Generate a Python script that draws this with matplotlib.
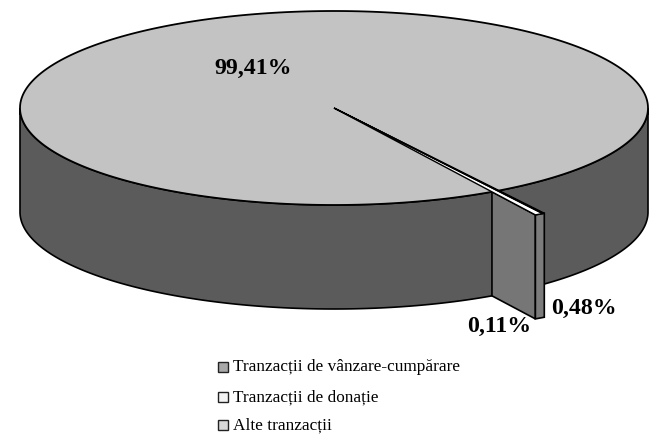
import numpy as np
import matplotlib
matplotlib.use("Agg")
import matplotlib.pyplot as plt
from matplotlib.patches import Polygon, Rectangle

# valori
etichete = ["99,41%", "0,11%", "0,48%"]
valori = [99.41, 0.11, 0.48]
legenda = ["Tranzacții de vânzare-cumpărare", "Tranzacții de donație", "Alte tranzacții"]
culori_legenda = ["#a8a8a8", "#f4f4f4", "#d8d8d8"]

# geometrie (pixeli)
cx, cy = 334, 108
a, b = 314, 97
h = 104
r_felie = 1.275
unghi_start = 59.8  # capatul feliei de 99,41%
comprimare = 0.7    # perspectiva ingusteaza feliile

plt.rcParams["font.family"] = ["Liberation Serif", "DejaVu Serif"]
fig = plt.figure(figsize=(6.6, 4.36), dpi=100)
ax = fig.add_axes([0, 0, 1, 1])
ax.set_xlim(0, 660)
ax.set_ylim(436, 0)
ax.axis("off")


def punct(t, r=1.0):
    t = np.radians(t)
    return cx + r * a * np.cos(t), cy + r * b * np.sin(t)


def arc(t1, t2, r=1.0, dy=0):
    t = np.radians(np.linspace(t1, t2, 300))
    return np.column_stack([cx + r * a * np.cos(t), cy + r * b * np.sin(t) + dy])


sweep = [v * 3.6 * comprimare for v in valori]
t_alb = unghi_start - sweep[2]
t_negru = t_alb - sweep[1]

# peretele lateral (partea din fata a elipsei)
fata = arc(0, 180)
jos = arc(180, 0, dy=h)
ax.add_patch(Polygon(np.vstack([fata, jos]), closed=True, fc="#5b5b5b", ec="black", lw=1.2))

# capacul
top = arc(0, 360)
ax.add_patch(Polygon(top, closed=True, fc="#c3c3c3", ec="black", lw=1.3))

# feliile subtiri: peretele de taietura + marginea exterioara
x0, y0 = punct(unghi_start)
x1, y1 = punct(unghi_start, r_felie)
x2, y2 = punct(t_negru, r_felie)
ax.add_patch(Polygon([(x0, y0), (x1, y1), (x1, y1 + h), (x0, y0 + h)], closed=True,
                     fc="#767676", ec="black", lw=1.2))
ax.add_patch(Polygon([(x1, y1), (x2, y2), (x2, y2 + h), (x1, y1 + h)], closed=True,
                     fc="#7c7c7c", ec="black", lw=1.2))

# capacul feliilor, de la centru
xm, ym = punct(t_alb, r_felie)
ax.add_patch(Polygon([(cx, cy), (x1, y1), (xm, ym)], closed=True, fc="white", ec="black", lw=1.0))
ax.add_patch(Polygon([(cx, cy), (xm, ym), (x2, y2)], closed=True, fc="#111111", ec="black", lw=1.0))

# etichete
ax.text(253, 68, etichete[0], fontsize=17.2, fontweight="bold", ha="center", va="center")
ax.text(499, 326, etichete[1], fontsize=17.2, fontweight="bold", ha="center", va="center")
ax.text(584, 308, etichete[2], fontsize=17.2, fontweight="bold", ha="center", va="center")

# legenda
for y, txt, c in zip([367, 397, 425], legenda, culori_legenda):
    ax.add_patch(Rectangle((218, y - 5), 10, 10, fc=c, ec="#222222", lw=1))
    ax.text(233, y, txt, fontsize=12.4, ha="left", va="center")

fig.savefig("out.png", dpi=100)
